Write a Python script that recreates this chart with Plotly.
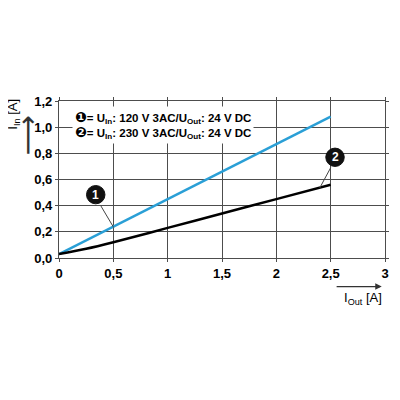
import plotly.graph_objects as go

# input current vs output current
i_out = [0, 0.25, 0.5, 1, 1.5, 2, 2.5]
i_in_120 = [0.03, 0.135, 0.24, 0.45, 0.66, 0.87, 1.08]
i_in_230 = [0.03, 0.07, 0.12, 0.23, 0.34, 0.45, 0.56]

x_ticks = [0, 0.5, 1, 1.5, 2, 2.5, 3]
y_ticks = [0, 0.2, 0.4, 0.6, 0.8, 1.0, 1.2]

grid = "#4d4d4d"

fig = go.Figure()
fig.add_trace(go.Scatter(x=i_out, y=i_in_120, mode="lines",
                         line=dict(color="#2a9fd6", width=2.5)))
fig.add_trace(go.Scatter(x=i_out, y=i_in_230, mode="lines", line_shape="spline",
                         line=dict(color="black", width=2.5)))

# legend text in a white box over the grid
num = '<span style="font-size:14px">%s</span>'
legend_txt = ("<b>" + num % "❶" + "= U<sub>In</sub>: 120 V 3AC/U<sub>Out</sub>: 24 V DC</b><br>"
              "<b>" + num % "❷" + "= U<sub>In</sub>: 230 V 3AC/U<sub>Out</sub>: 24 V DC</b>")
fig.add_annotation(text=legend_txt, xref="paper", yref="paper", x=0.04, y=0.85,
                   xanchor="left", yanchor="middle", showarrow=False, align="left",
                   bgcolor="white", borderpad=2,
                   font=dict(family="Liberation Sans, DejaVu Sans", size=11.5, color="black"))

# numbered callouts
callouts = [("1", 0.338, 0.484, 0.384, 0.40, 0.504, 0.232),
            ("2", 2.54, 0.77, 2.50, 0.69, 2.40, 0.536)]
for lab, cx, cy, lx0, ly0, lx1, ly1 in callouts:
    fig.add_shape(type="line", x0=lx0, y0=ly0, x1=lx1, y1=ly1,
                  line=dict(color="#444444", width=1))
    fig.add_shape(type="circle", x0=cx - 0.085, x1=cx + 0.085, y0=cy - 0.07, y1=cy + 0.07,
                  fillcolor="#111111", line=dict(color="#111111", width=1))
    fig.add_annotation(x=cx, y=cy, text="<b>" + lab + "</b>", showarrow=False,
                       font=dict(family="Liberation Sans", size=12, color="white"))

# axis titles with arrows
fig.add_annotation(text="I<sub>In</sub> [A]", xref="paper", yref="paper", x=-0.14, y=0.915,
                   xanchor="center", yanchor="middle",
                   textangle=-90, showarrow=False, font=dict(family="Liberation Sans", size=13))
# the vertical arrow did not show as a line in the left margin, so use a glyph
fig.add_annotation(text="⟶", xref="paper", yref="paper", x=-0.098, y=0.78,
                   xanchor="center", yanchor="middle", textangle=-90, showarrow=False,
                   font=dict(family="DejaVu Sans", size=28, color="#333333"))
fig.add_annotation(text="I<sub>Out</sub> [A]", xref="paper", yref="paper", x=0.933, y=-0.255,
                   xanchor="center", yanchor="middle",
                   showarrow=False, font=dict(family="Liberation Sans", size=13))
fig.add_annotation(text="", xref="x domain", yref="y domain", x=0.99, y=-0.182,
                   ax=0.847, ay=-0.182, axref="x domain", ayref="y domain",
                   showarrow=True, arrowhead=2, arrowsize=1, arrowwidth=1.3,
                   arrowcolor="#333333")

fig.update_layout(
    width=400, height=400,
    margin=dict(l=51, r=23, t=93, b=150, autoexpand=False),
    paper_bgcolor="white", plot_bgcolor="white",
    showlegend=False,
    font=dict(family="Liberation Sans, Arial", size=13, color="black"),
)
fig.update_xaxes(range=[0, 3], tickvals=x_ticks,
                 ticktext=["<b>%s</b>" % str(v).replace(".", ",") for v in x_ticks],
                 showgrid=True, gridcolor=grid, gridwidth=1.2, zeroline=False,
                 showline=True, linecolor=grid, linewidth=1.2, mirror="ticks",
                 ticks="outside", ticklen=3, tickcolor=grid, automargin=False)
fig.update_yaxes(range=[0, 1.2], tickvals=y_ticks,
                 ticktext=[("<b>%.1f</b>" % v).replace(".", ",") for v in y_ticks],
                 showgrid=True, gridcolor=grid, gridwidth=1.2, zeroline=False,
                 showline=True, linecolor=grid, linewidth=1.2, mirror="ticks",
                 ticks="outside", ticklen=3, tickcolor=grid, automargin=False)

fig.write_html("out.html")
